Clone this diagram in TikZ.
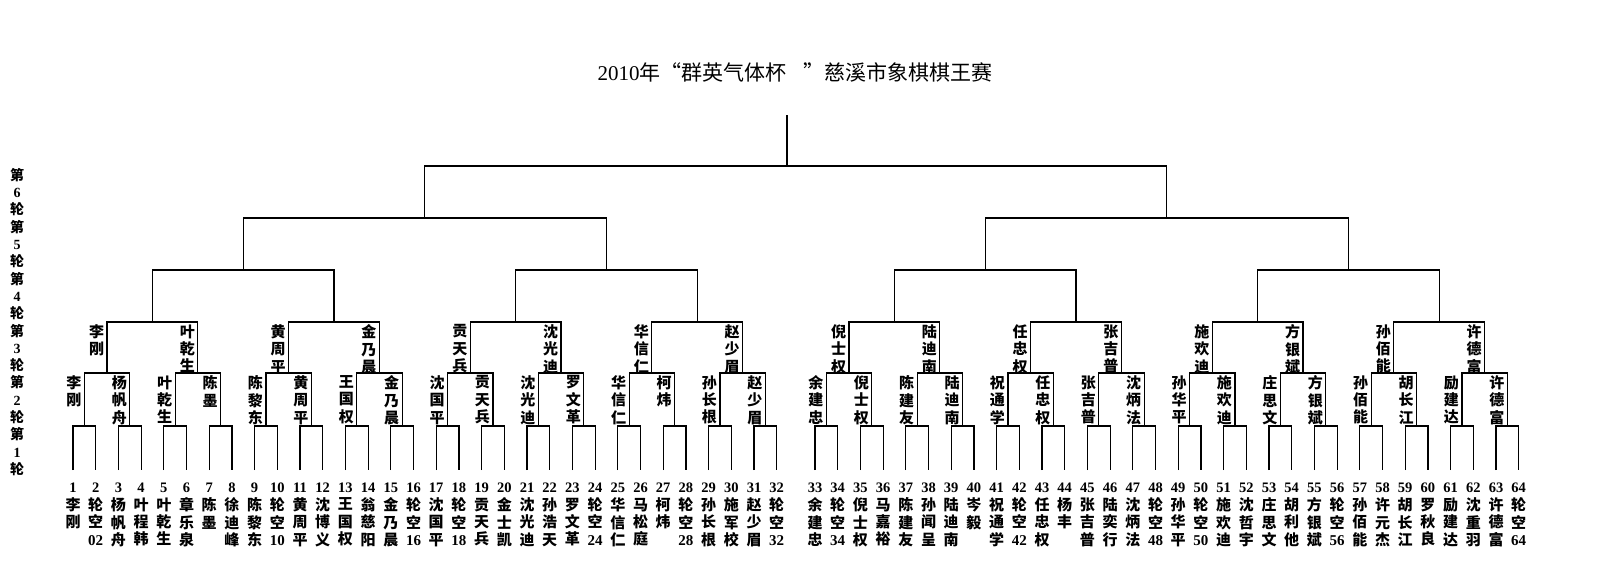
\documentclass[tikz,border=0pt]{standalone}
\usepackage{fontspec}
\setmainfont{Liberation Serif}
\newfontfamily\cjk{Noto Sans CJK SC}
\usetikzlibrary{positioning}
\newcommand\dg[1]{{\rmfamily #1}}
\tikzset{
  link/.style={draw=black, line width=1.2pt},
  pname/.style={font=\cjk\bfseries\fontsize{15}{17.3}\selectfont, align=center, inner sep=0pt, anchor=north},
  pnum/.style={font=\bfseries\fontsize{14.5}{17}\selectfont, inner sep=0pt},
}
\begin{document}
\begin{tikzpicture}[x=1pt,y=-1pt]
\useasboundingbox (0,0) rectangle (1600,570);
\node[font=\cjk\fontsize{21}{24}\selectfont] (title) at (795,72) {\dg{2010}年“群英气体杯\hspace{0.8em}”慈溪市象棋棋王赛};
\node[pname, font=\cjk\bfseries\fontsize{14}{17.3}\selectfont] (rounds) at (17,168) {第\\\dg{6}\\轮\\第\\\dg{5}\\轮\\第\\\dg{4}\\轮\\第\\\dg{3}\\轮\\第\\\dg{2}\\轮\\第\\\dg{1}\\轮};
\foreach \i in {1,...,64}{
  \pgfmathsetmacro\xx{73+22.7*(\i-1)+15.6*(\i>32)}
  \coordinate (p\i) at (\xx,470);
  \node[pnum] (n\i) at (\xx,488) {\i};
}
\foreach \nm [count=\i] in {
  {李\\刚},{轮\\空\\\dg{02}},{杨\\帆\\舟},{叶\\程\\韩},{叶\\乾\\生},{章\\乐\\泉},{陈\\墨},{徐\\迪\\峰},
  {陈\\黎\\东},{轮\\空\\\dg{10}},{黄\\周\\平},{沈\\博\\义},{王\\国\\权},{翁\\慈\\阳},{金\\乃\\晨},{轮\\空\\\dg{16}},
  {沈\\国\\平},{轮\\空\\\dg{18}},{贡\\天\\兵},{金\\士\\凯},{沈\\光\\迪},{孙\\浩\\天},{罗\\文\\革},{轮\\空\\\dg{24}},
  {华\\信\\仁},{马\\松\\庭},{柯\\炜},{轮\\空\\\dg{28}},{孙\\长\\根},{施\\军\\校},{赵\\少\\眉},{轮\\空\\\dg{32}},
  {余\\建\\忠},{轮\\空\\\dg{34}},{倪\\士\\权},{马\\嘉\\裕},{陈\\建\\友},{孙\\闻\\呈},{陆\\迪\\南},{岑\\毅},
  {祝\\通\\学},{轮\\空\\\dg{42}},{任\\忠\\权},{杨\\丰},{张\\吉\\普},{陆\\奕\\行},{沈\\炳\\法},{轮\\空\\\dg{48}},
  {孙\\华\\平},{轮\\空\\\dg{50}},{施\\欢\\迪},{沈\\哲\\宇},{庄\\思\\文},{胡\\利\\他},{方\\银\\斌},{轮\\空\\\dg{56}},
  {孙\\佰\\能},{许\\元\\杰},{胡\\长\\江},{罗\\秋\\良},{励\\建\\达},{沈\\重\\羽},{许\\德\\富},{轮\\空\\\dg{64}}}
  \node[pname, below=4.6pt of n\i] (m\i) {\nm};
\foreach \l/\yy in {1/426,2/373,3/322,4/270,5/218}{
  \pgfmathtruncatemacro\cnt{64/2^\l}
  \foreach \k in {1,...,\cnt}{
    \pgfmathsetmacro\xa{73+22.7*((\k-1)*2^\l)+15.6*(\k>\cnt/2)}
    \pgfmathsetmacro\xb{73+22.7*(\k*2^\l-1)+15.6*(\k>\cnt/2)}
    \coordinate (j\l-\k) at ({(\xa+\xb)/2},\yy);
  }
}
\coordinate (j6-1) at (787,166);
\coordinate (top) at (787,115);
\foreach \k in {1,...,32}{
  \pgfmathtruncatemacro\a{2*\k-1}
  \pgfmathtruncatemacro\b{2*\k}
  \draw[link] (p\a) |- (j1-\k) -| (p\b);
}
\foreach \l in {2,...,6}{
  \pgfmathtruncatemacro\m{\l-1}
  \pgfmathtruncatemacro\cnt{64/2^\l}
  \foreach \k in {1,...,\cnt}{
    \pgfmathtruncatemacro\a{2*\k-1}
    \pgfmathtruncatemacro\b{2*\k}
    \draw[link] (j\m-\a) |- (j\l-\k) -| (j\m-\b);
  }
}
\draw[link] (j6-1) -- (top);
\foreach \nm [count=\k] in {
  {李\\刚},{杨\\帆\\舟},{叶\\乾\\生},{陈\\墨},{陈\\黎\\东},{黄\\周\\平},{王\\国\\权},{金\\乃\\晨},
  {沈\\国\\平},{贡\\天\\兵},{沈\\光\\迪},{罗\\文\\革},{华\\信\\仁},{柯\\炜},{孙\\长\\根},{赵\\少\\眉},
  {余\\建\\忠},{倪\\士\\权},{陈\\建\\友},{陆\\迪\\南},{祝\\通\\学},{任\\忠\\权},{张\\吉\\普},{沈\\炳\\法},
  {孙\\华\\平},{施\\欢\\迪},{庄\\思\\文},{方\\银\\斌},{孙\\佰\\能},{胡\\长\\江},{励\\建\\达},{许\\德\\富}}
  \node[pname, xshift=-10.5pt, yshift=-2.5pt] (w1-\k) at (j1-\k |- j2-1) {\nm};
\foreach \nm [count=\k] in {
  {李\\刚},{叶\\乾\\生},{黄\\周\\平},{金\\乃\\晨},{贡\\天\\兵},{沈\\光\\迪},{华\\信\\仁},{赵\\少\\眉},
  {倪\\士\\权},{陆\\迪\\南},{任\\忠\\权},{张\\吉\\普},{施\\欢\\迪},{方\\银\\斌},{孙\\佰\\能},{许\\德\\富}}
  \node[pname, xshift=-10.5pt, yshift=-2.5pt] (w2-\k) at (j2-\k |- j3-1) {\nm};
\end{tikzpicture}
\end{document}
